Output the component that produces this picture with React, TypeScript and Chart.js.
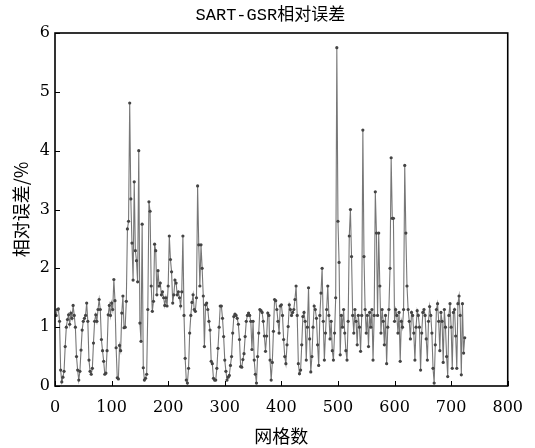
import { useEffect, useRef } from "react";
import { Chart, registerables } from "chart.js";

Chart.register(...registerables);

// grid count of the first sample and spacing between samples
const X_START = 2;
const X_STEP = 2;

// relative error (%) per sample
const errorValues: number[] = [
  1.2, 1.3, 1.31, 1.1, 0.27, 0.07, 0.15, 0.25, 0.67, 1.0,
  1.13, 1.21, 1.05, 1.24, 1.15, 1.37, 1.2, 1.0, 0.5, 0.27,
  0.1, 0.25, 0.61, 0.95, 1.1, 1.15, 1.2, 1.41, 1.1, 0.44,
  0.25, 0.2, 0.3, 0.73, 1.1, 1.21, 1.1, 1.3, 1.47, 1.3,
  0.79, 0.6, 0.42, 0.2, 0.22, 0.6, 1.21, 1.37, 1.2, 1.41,
  1.3, 1.81, 1.45, 0.65, 0.14, 0.12, 0.69, 0.6, 1.24, 1.53,
  0.99, 1.0, 1.44, 2.67, 2.8, 4.81, 3.18, 2.43, 1.8, 3.47,
  2.3, 2.13, 1.77, 4.0, 1.07, 0.76, 2.75, 0.31, 0.1, 0.13,
  0.2, 1.3, 3.13, 2.97, 1.7, 1.27, 1.44, 2.41, 2.3, 1.55,
  1.96, 1.7, 1.75, 1.55, 1.6, 1.5, 1.37, 1.5, 1.36, 1.7,
  2.55, 2.15, 1.94, 1.41, 1.55, 1.8, 1.75, 1.55, 1.6, 1.5,
  1.36, 1.6, 2.55, 1.2, 0.47, 0.1, 0.05, 0.3, 0.9, 1.2,
  1.42, 1.55, 1.3, 1.27, 1.5, 3.4, 2.4, 1.7, 2.4, 2.0,
  1.53, 0.67, 1.38, 1.41, 1.3, 1.1, 0.95, 0.42, 0.38, 0.13,
  0.1, 0.1, 0.3, 0.64, 1.0, 1.36, 1.36, 1.15, 0.84, 0.44,
  0.25, 0.1, 0.15, 0.18, 0.35, 0.5, 0.9, 1.18, 1.22, 1.2,
  1.15, 1.05, 0.79, 0.33, 0.32, 0.45, 0.55, 0.84, 1.1, 1.2,
  1.24, 1.2, 1.1, 0.62, 1.1, 0.44, 0.2, 0.05, 0.5, 0.9,
  1.3, 1.28, 1.25, 1.1, 0.85, 0.59, 0.85, 1.24, 1.2, 0.44,
  0.1, 0.4, 0.93, 1.47, 1.45, 1.3, 1.1, 0.9, 1.36, 1.38,
  1.2, 0.79, 0.5, 0.38, 0.7, 1.01, 1.38, 1.3, 1.2, 1.25,
  1.3, 1.47, 1.7, 1.2, 0.38, 0.21, 0.27, 0.7, 1.18, 1.25,
  1.1, 0.44, 1.0, 1.67, 0.8, 0.24, 0.5, 1.0, 1.36, 1.3,
  1.15, 0.7, 0.35, 1.2, 1.58, 2.0, 1.1, 0.44, 0.9, 1.3,
  1.7, 1.2, 0.8, 1.1, 0.6, 0.44, 0.9, 1.5, 5.75, 2.8,
  2.1, 0.53, 1.2, 1.0, 1.3, 0.9, 0.6, 0.44, 1.1, 2.55,
  3.0, 2.2, 1.2, 0.9, 1.3, 1.1, 0.7, 1.2, 1.0, 0.59,
  1.2, 4.35, 2.2, 1.3, 0.9, 1.2, 0.67, 1.25, 1.0, 1.3,
  0.44, 1.2, 3.3, 2.6, 1.2, 2.6, 1.7, 0.9, 1.3, 1.1,
  0.7, 1.2, 0.38, 1.0, 1.3, 2.0, 3.88, 2.85, 2.85, 1.1,
  1.3, 1.2, 0.9, 1.25, 0.42, 1.1, 1.0, 1.3, 3.75, 2.6,
  1.7, 1.3, 1.1, 0.8, 1.25, 1.2, 0.9, 0.44, 1.0, 1.28,
  1.2, 1.0, 0.27, 0.9, 1.25, 1.3, 1.2, 0.8, 0.44, 1.1,
  1.35, 1.2, 0.9, 0.3, 0.05, 0.7, 1.3, 1.4, 1.1, 0.6,
  1.25, 1.1, 0.4, 1.3, 1.0, 0.5, 0.16, 1.2, 1.4, 1.0,
  0.3, 1.25, 1.3, 0.85, 0.3, 1.4, 1.53, 1.2, 0.19, 1.4,
  0.56, 0.82,
];

const xTicks = [0, 100, 200, 300, 400, 500, 600, 700, 800];
const yTicks = [0, 1, 2, 3, 4, 5, 6];

const TITLE = "SART-GSR相对误差";
const X_TITLE = "网格数";
const Y_TITLE = "相对误差/%";

const framePlugin = {
  id: "frameTicks",
  afterDraw(chart: any) {
    const { ctx, chartArea: a, scales } = chart;
    ctx.save();
    ctx.strokeStyle = "#000";
    ctx.lineWidth = 1;
    for (const v of xTicks) {
      const px = Math.round(scales.x.getPixelForValue(v)) + 0.5;
      ctx.beginPath();
      ctx.moveTo(px, a.bottom);
      ctx.lineTo(px, a.bottom - 5);
      ctx.stroke();
    }
    for (const v of yTicks) {
      const py = Math.round(scales.y.getPixelForValue(v)) + 0.5;
      ctx.beginPath();
      ctx.moveTo(a.left, py);
      ctx.lineTo(a.left + 5, py);
      ctx.stroke();
    }
    ctx.lineWidth = 1.6;
    ctx.strokeRect(a.left, a.top, a.right - a.left, a.bottom - a.top);
    // chart title, centred over the plot frame
    ctx.fillStyle = "#000";
    ctx.font = "17px 'Liberation Mono', 'Noto Sans CJK SC'";
    ctx.textAlign = "center";
    ctx.textBaseline = "middle";
    ctx.fillText(TITLE, (a.left + a.right) / 2 - 11, 15);
    ctx.restore();
  },
};

export default function App() {
  const canvasRef = useRef<HTMLCanvasElement | null>(null);

  useEffect(() => {
    if (!canvasRef.current) return;
    const points = errorValues.map((v, i) => ({ x: X_START + i * X_STEP, y: v }));
    const tickFont = { family: "'DejaVu Serif', serif", size: 16 };
    const chart = new Chart(canvasRef.current, {
      type: "line",
      data: {
        datasets: [
          {
            data: points,
            borderColor: "#777777",
            borderWidth: 1.1,
            pointRadius: 1.6,
            pointBackgroundColor: "#444444",
            pointBorderWidth: 0,
            tension: 0,
          },
        ],
      },
      options: {
        responsive: false,
        animation: false,
        layout: { padding: { left: 0, right: 27, top: 33, bottom: 0 } },
        plugins: {
          legend: { display: false },
          tooltip: { enabled: false },
          title: { display: false },
        },
        scales: {
          x: {
            type: "linear",
            min: 0,
            max: 800,
            afterBuildTicks: (s: any) => {
              s.ticks = xTicks.map((v) => ({ value: v }));
            },
            ticks: { font: tickFont, color: "#000", padding: 12, maxRotation: 0, autoSkip: false },
            grid: { display: false, drawTicks: false },
            border: { display: false },
            title: {
              display: true,
              text: X_TITLE,
              color: "#000",
              font: { family: "'Noto Sans CJK SC'", size: 18 },
              padding: { top: 0, bottom: 1 },
            },
            afterFit: (s: any) => {
              s.height = 62;
            },
          },
          y: {
            type: "linear",
            min: 0,
            max: 6,
            afterBuildTicks: (s: any) => {
              s.ticks = yTicks.map((v) => ({ value: v }));
            },
            ticks: { font: tickFont, color: "#000", padding: 5 },
            grid: { display: false, drawTicks: false },
            border: { display: false },
            title: {
              display: true,
              text: Y_TITLE,
              color: "#000",
              font: { family: "'Noto Sans CJK SC'", size: 18 },
              padding: { top: 10, bottom: 0 },
            },
            afterFit: (s: any) => {
              s.width = 55;
            },
          },
        },
      },
      plugins: [framePlugin],
    });
    return () => chart.destroy();
  }, []);

  return (
    <div style={{ position: "absolute", left: 0, top: 0, width: 535, height: 448, background: "#fff" }}>
      <canvas ref={canvasRef} width={535} height={448} />
    </div>
  );
}
